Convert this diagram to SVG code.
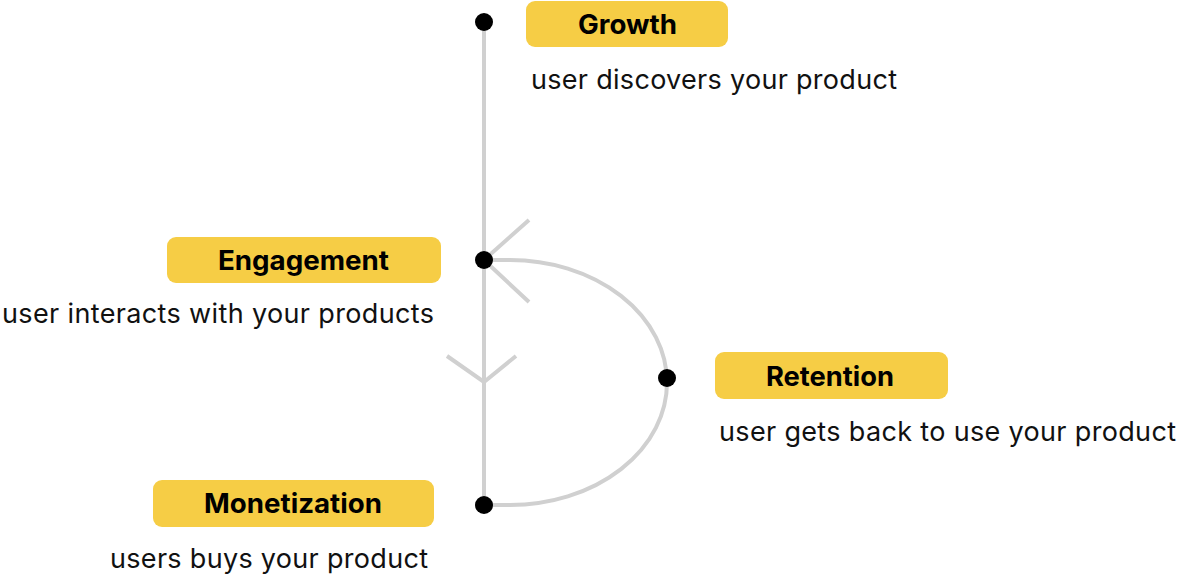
<svg xmlns="http://www.w3.org/2000/svg" width="1179" height="577" viewBox="0 0 1179 577">
<style>
.box{fill:#F6CD45}
.lbl{font-family:Inter,"Liberation Sans",sans-serif;font-weight:700;font-size:27px;fill:#000}
.desc{font-family:Inter,"Liberation Sans",sans-serif;font-size:27px;fill:#111}
.ln{fill:none;stroke:#D0D0D0;stroke-width:4}
.dot{fill:#000}
</style>
<rect width="1179" height="577" fill="#fff"/>
<g id="connectors">
<line class="ln" x1="484" y1="22" x2="484" y2="505"/>
<path class="ln" d="M484,260 H510 A157,122.5 0 0 1 510,505 H484"/>
<polyline class="ln" points="529,220 484,260 529,302"/>
<polyline class="ln" points="447,356 484,382 516,356"/>
</g>
<g id="growth">
<circle class="dot" cx="484" cy="22" r="9"/>
<rect class="box" x="526" y="1" width="202" height="46" rx="9"/>
<text class="lbl" x="578" y="34" textLength="99" lengthAdjust="spacingAndGlyphs">Growth</text>
<text class="desc" x="531" y="89" textLength="366">user discovers your product</text>
</g>
<g id="engagement">
<circle class="dot" cx="484" cy="260" r="9"/>
<rect class="box" x="167" y="237" width="274" height="46" rx="9"/>
<text class="lbl" x="218" y="270" textLength="171" lengthAdjust="spacingAndGlyphs">Engagement</text>
<text class="desc" x="2" y="323" textLength="432">user interacts with your products</text>
</g>
<g id="retention">
<circle class="dot" cx="667" cy="378" r="9"/>
<rect class="box" x="715" y="352" width="233" height="47" rx="9"/>
<text class="lbl" x="766" y="386" textLength="128" lengthAdjust="spacingAndGlyphs">Retention</text>
<text class="desc" x="719" y="441" textLength="457">user gets back to use your product</text>
</g>
<g id="monetization">
<circle class="dot" cx="484" cy="505" r="9"/>
<rect class="box" x="153" y="480" width="281" height="47" rx="9"/>
<text class="lbl" x="204" y="513" textLength="178" lengthAdjust="spacingAndGlyphs">Monetization</text>
<text class="desc" x="110" y="568" textLength="318">users buys your product</text>
</g>
</svg>
